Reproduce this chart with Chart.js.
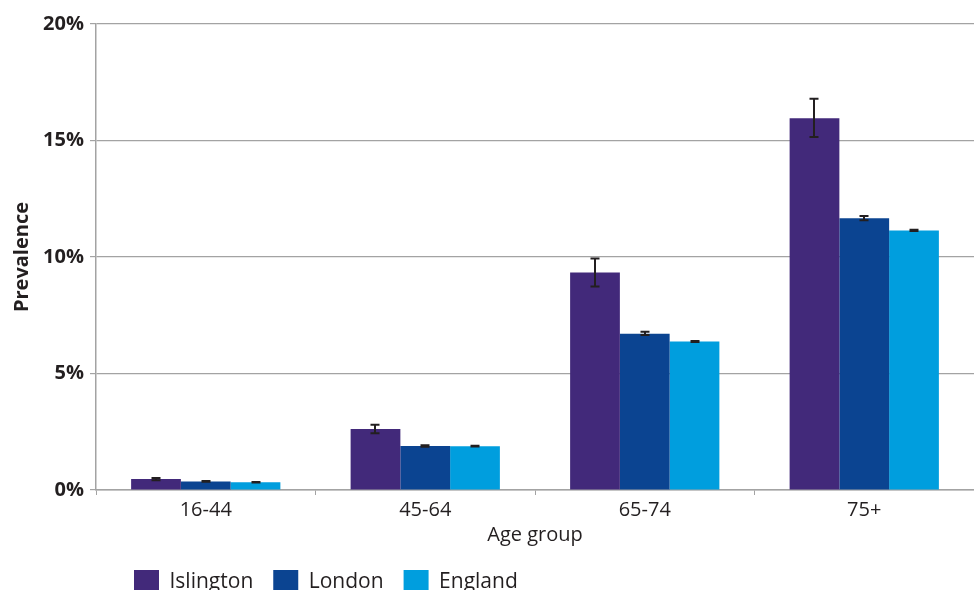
<!DOCTYPE html>
<html>
<head>
<meta charset="utf-8">
<script src="https://cdn.jsdelivr.net/npm/chart.js@4/dist/chart.umd.min.js"></script>
<style>
  html, body { margin: 0; padding: 0; background: #fff; overflow: hidden; }
  #wrap { width: 974px; height: 605px; position: relative; }
</style>
</head>
<body>
<div id="wrap"><canvas id="myChart"></canvas></div>
<script>
var ageGroups = ["16-44", "45-64", "65-74", "75+"];

var islington = [0.47, 2.62, 9.33, 15.96];
var london = [0.37, 1.89, 6.71, 11.66];
var england = [0.33, 1.88, 6.37, 11.14];

// confidence intervals (low / high)
var islingtonLow = [0.42, 2.44, 8.73, 15.15];
var islingtonHigh = [0.52, 2.80, 9.94, 16.79];
var londonLow = [0.35, 1.86, 6.65, 11.58];
var londonHigh = [0.39, 1.92, 6.79, 11.76];
var englandLow = [0.32, 1.87, 6.35, 11.12];
var englandHigh = [0.34, 1.90, 6.40, 11.17];

var yTicks = [0, 5, 10, 15, 20];

var textColor = '#231f20';
var gridColor = '#a3a3a3';
var fontFamily = '"Open Sans", "Noto Sans", sans-serif';

var errorBars = {
    id: 'errorBars',
    afterDatasetsDraw: function(chart) {
        var ctx = chart.ctx;
        var y = chart.scales.y;
        ctx.save();
        ctx.strokeStyle = '#231f20';
        ctx.lineWidth = 2;
        chart.data.datasets.forEach(function(ds, di) {
            var meta = chart.getDatasetMeta(di);
            meta.data.forEach(function(bar, i) {
                var lo = y.getPixelForValue(ds.errLow[i]);
                var hi = y.getPixelForValue(ds.errHigh[i]);
                var x = Math.round(bar.x);
                ctx.beginPath();
                ctx.moveTo(x, lo);
                ctx.lineTo(x, hi);
                ctx.moveTo(x - 4.5, lo);
                ctx.lineTo(x + 4.5, lo);
                ctx.moveTo(x - 4.5, hi);
                ctx.lineTo(x + 4.5, hi);
                ctx.stroke();
            });
        });
        ctx.restore();
    }
};

// push the legend row to the right, under the first group
var legendShift = {
    id: 'legendShift',
    afterLayout: function(chart) {
        chart.legend.left += 114;
        chart.legend.right += 114;
    }
};

var ctx = document.getElementById('myChart').getContext('2d');

var chart = new Chart(ctx, {
    type: 'bar',
    data: {
        labels: ageGroups,
        datasets: [{
                label: "Islington",
                backgroundColor: '#42297a',
                data: islington,
                errLow: islingtonLow,
                errHigh: islingtonHigh
            },
            {
                label: "London",
                backgroundColor: '#0b4491',
                data: london,
                errLow: londonLow,
                errHigh: londonHigh
            },
            {
                label: "England",
                backgroundColor: '#009ede',
                data: england,
                errLow: englandLow,
                errHigh: englandHigh
            }
        ]
    },
    plugins: [errorBars, legendShift],
    options: {
        responsive: true,
        maintainAspectRatio: false,
        animation: false,
        layout: { padding: { top: 24, right: 0, left: 0, bottom: 0 } },
        datasets: {
            bar: { categoryPercentage: 0.68, barPercentage: 1.0 }
        },
        plugins: {
            tooltip: { enabled: false },
            legend: {
                position: 'bottom',
                align: 'start',
                labels: {
                    boxWidth: 25,
                    boxHeight: 25,
                    padding: 20,
                    color: textColor,
                    font: { family: fontFamily, size: 21 }
                }
            }
        },
        scales: {
            x: {
                offset: true,
                grid: { drawOnChartArea: false, drawTicks: true, tickLength: 5, color: gridColor, offset: true },
                border: { color: gridColor, width: 1.5 },
                ticks: { color: textColor, padding: 3, font: { family: fontFamily, size: 20 } },
                title: {
                    display: true,
                    text: 'Age group',
                    color: textColor,
                    padding: { top: 0, bottom: 3 },
                    font: { family: fontFamily, size: 20 }
                },
                afterFit: function(scale) { scale.height = 60; }
            },
            y: {
                min: 0,
                max: 20,
                afterBuildTicks: function(scale) {
                    scale.ticks = yTicks.map(function(v) { return { value: v }; });
                },
                grid: { color: gridColor, lineWidth: 1.2, tickLength: 6 },
                border: { color: gridColor, width: 1.5 },
                ticks: {
                    color: textColor,
                    padding: 6,
                    font: { family: fontFamily, size: 20, weight: 'bold' },
                    callback: function(v) { return v + '%'; }
                },
                title: {
                    display: true,
                    text: 'Prevalence',
                    color: textColor,
                    padding: { top: 10, bottom: 0 },
                    font: { family: fontFamily, size: 20, weight: 'bold' }
                },
                afterFit: function(scale) { scale.width = 96; }
            }
        }
    }
});
</script>
</body>
</html>
